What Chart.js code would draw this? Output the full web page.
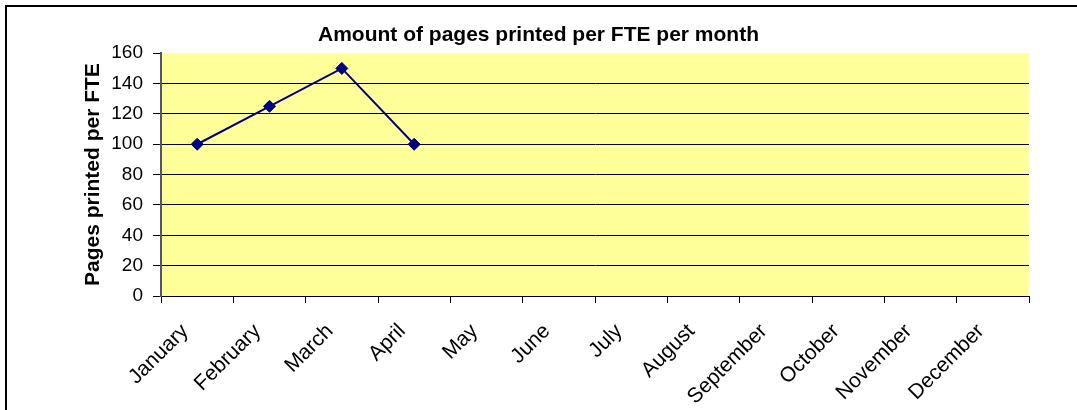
<!DOCTYPE html>
<html>
<head>
<meta charset="utf-8">
<script src="https://cdn.jsdelivr.net/npm/chart.js@4"></script>
<style>
  html, body { margin: 0; padding: 0; background: #fff; }
  #wrap { position: relative; width: 1077px; height: 410px; }
</style>
</head>
<body>
<div id="wrap"><canvas id="pagesChart" width="1077" height="410"></canvas></div>
<script>
// pages printed per FTE, only Jan-Apr filled in
var months = ["January", "February", "March", "April", "May", "June", "July",
              "August", "September", "October", "November", "December"];
var pagesPerFte = [100, 125, 150, 100, null, null, null, null, null, null, null, null];
var yTicks = [0, 20, 40, 60, 80, 100, 120, 140, 160];

var plotBg = {
    id: 'plotBg',
    beforeDraw: function(chart) {
        var c = chart.ctx, a = chart.chartArea;
        c.save();
        c.fillStyle = '#FFFF99';
        c.fillRect(a.left, a.top, a.right - a.left, a.bottom - a.top);
        // outer frame, only top and left show
        c.fillStyle = '#000';
        c.fillRect(5, 5, 1072, 2);
        c.fillRect(5, 5, 2, 405);
        c.restore();
    }
};

Chart.defaults.font.family = '"Liberation Sans", Arial, sans-serif';
Chart.defaults.color = '#000';

var ctx = document.getElementById("pagesChart").getContext('2d');
var pagesChart = new Chart(ctx, {
    type: 'line',
    data: {
        labels: months,
        datasets: [{
            label: 'Pages printed per FTE',
            data: pagesPerFte,
            borderColor: '#000080',
            backgroundColor: '#000080',
            borderWidth: 2,
            pointStyle: 'rectRot',
            pointRadius: 6,
            pointBorderWidth: 1,
            pointBackgroundColor: '#000080',
            pointBorderColor: '#000080',
            tension: 0,
            spanGaps: false
        }]
    },
    options: {
        responsive: false,
        animation: false,
        layout: { padding: 0 },
        plugins: {
            legend: { display: false },
            tooltip: { enabled: false },
            title: {
                display: true,
                text: 'Amount of pages printed per FTE per month',
                color: '#000',
                font: { size: 21, weight: 'bold' },
                padding: { top: 23, bottom: 5 }
            }
        },
        scales: {
            x: {
                offset: true,
                grid: {
                    offset: true,
                    drawOnChartArea: false,
                    drawTicks: true,
                    tickLength: 7,
                    tickColor: '#000'
                },
                border: { color: '#000', width: 1 },
                ticks: {
                    color: '#000',
                    font: { size: 21 },
                    minRotation: 45,
                    maxRotation: 45,
                    autoSkip: false,
                    padding: 16,
                    labelOffset: -12
                },
                afterFit: function(scale) { scale.height = 114; }
            },
            y: {
                min: 0,
                max: 160,
                afterBuildTicks: function(scale) {
                    scale.ticks = yTicks.map(function(v) { return { value: v }; });
                },
                grid: {
                    color: function(c) {
                        return (c.tick && c.tick.value === 160) ? 'rgba(0,0,0,0)' : '#000';
                    },
                    tickColor: '#000',
                    tickLength: 8
                },
                border: { color: '#555', width: 2 },
                ticks: {
                    color: '#000',
                    font: { size: 19 },
                    padding: 10
                },
                title: {
                    display: true,
                    text: 'Pages printed per FTE',
                    color: '#000',
                    font: { size: 21, weight: 'bold' },
                    padding: { top: 81, bottom: 0 }
                },
                afterFit: function(scale) { scale.width = 161; }
            },
            // empty right-hand axis only to keep the white margin right of the plot
            yRight: {
                position: 'right',
                display: true,
                grid: { display: false, drawTicks: false },
                border: { display: false },
                ticks: { display: false },
                afterFit: function(scale) { scale.width = 48; }
            }
        }
    },
    plugins: [plotBg]
});
</script>
</body>
</html>
